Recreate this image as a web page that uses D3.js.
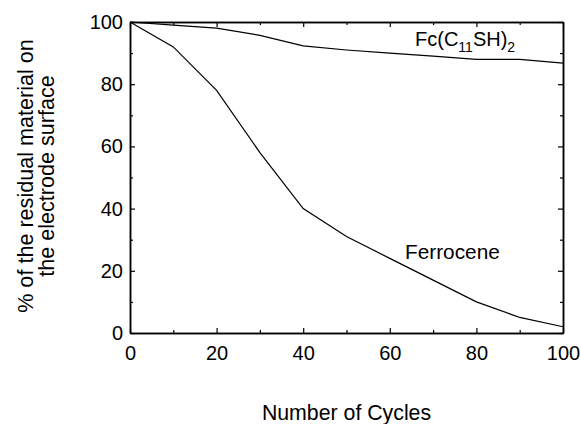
<!DOCTYPE html>
<html>
<head>
<meta charset="utf-8">
<script src="https://cdn.jsdelivr.net/npm/d3@7"></script>
<style>
  html, body { margin: 0; padding: 0; background: #fff; }
  svg text { font-family: "Liberation Sans", Arial, Helvetica, sans-serif; fill: #000; }
</style>
</head>
<body>
<svg id="chart" width="580" height="424"></svg>
<script>
// Cycle numbers (x) shared by both series
const cycles = [0, 10, 20, 30, 40, 50, 60, 70, 80, 90, 100];
// Residual material (%) after each cycle
const fcC11SH2 = [100, 99, 98, 95.7, 92.3, 91, 90, 89, 88, 88, 86.8];
const ferrocene = [100, 92, 78, 58, 40, 31, 24, 17, 10, 5, 2];

const majorTicks = [0, 20, 40, 60, 80, 100];
const minorTicks = [10, 30, 50, 70, 90];

const xTitle = "Number of Cycles";
const yTitleLines = ["% of the residual material on", "the electrode surface"];

const svg = d3.select("#chart");
const plotLeft = 130, plotRight = 563, plotTop = 22, plotBottom = 333;

const x = d3.scaleLinear().domain([0, 100]).range([plotLeft, plotRight]);
const y = d3.scaleLinear().domain([0, 100]).range([plotBottom, plotTop]);

const g = svg.append("g");

// Frame axes: labelled major ticks on left/bottom, inward ticks on all four sides
function styleAxis(sel) {
  sel.select(".domain").attr("stroke", "#000").attr("stroke-width", 1.5);
  sel.selectAll(".tick line").attr("stroke", "#000").attr("stroke-width", 1.2);
  sel.selectAll(".tick text").attr("font-size", 20).attr("font-family", "Liberation Sans, Arial, sans-serif");
}

function frameAxis(axisFn, pos, ticks, size, labelled, pad) {
  const a = axisFn.tickValues(ticks).tickSize(size).tickSizeOuter(0);
  if (labelled) a.tickPadding(pad); else a.tickFormat("");
  g.append("g").attr("transform", pos).call(a).call(styleAxis);
}

frameAxis(d3.axisBottom(x), `translate(0,${plotBottom})`, majorTicks, -5, true, 13);
frameAxis(d3.axisBottom(x), `translate(0,${plotBottom})`, minorTicks, -3, false);
frameAxis(d3.axisLeft(y), `translate(${plotLeft},0)`, majorTicks, -5, true, 7);
frameAxis(d3.axisLeft(y), `translate(${plotLeft},0)`, minorTicks, -3, false);
frameAxis(d3.axisTop(x), `translate(0,${plotTop})`, majorTicks, -5, false);
frameAxis(d3.axisTop(x), `translate(0,${plotTop})`, minorTicks, -3, false);
frameAxis(d3.axisRight(y), `translate(${plotRight},0)`, majorTicks, -5, false);
frameAxis(d3.axisRight(y), `translate(${plotRight},0)`, minorTicks, -3, false);

// Data lines
const line = d3.line().x((d, i) => x(cycles[i])).y(d => y(d));
[fcC11SH2, ferrocene].forEach(s => {
  g.append("path").datum(s)
    .attr("d", line)
    .attr("fill", "none")
    .attr("stroke", "#000")
    .attr("stroke-width", 1.2);
});

// Series labels
const fcLabel = g.append("text").attr("x", 415).attr("y", 46).attr("font-size", 20);
fcLabel.append("tspan").text("Fc(C");
fcLabel.append("tspan").attr("font-size", 14).attr("dy", 6).text("11");
fcLabel.append("tspan").attr("dy", -6).text("SH)");
fcLabel.append("tspan").attr("font-size", 14).attr("dy", 6).text("2");

g.append("text").attr("x", 405).attr("y", 259).attr("font-size", 20.8).text("Ferrocene");

// Axis titles
g.append("text")
  .attr("x", (plotLeft + plotRight) / 2).attr("y", 420)
  .attr("text-anchor", "middle").attr("font-size", 21.3)
  .text(xTitle);

const yt = g.append("text")
  .attr("transform", `translate(33,176) rotate(-90)`)
  .attr("text-anchor", "middle").attr("font-size", 21.6);
yTitleLines.forEach((t, i) => {
  yt.append("tspan").attr("x", 0).attr("y", i * 21).text(t);
});
</script>
</body>
</html>
